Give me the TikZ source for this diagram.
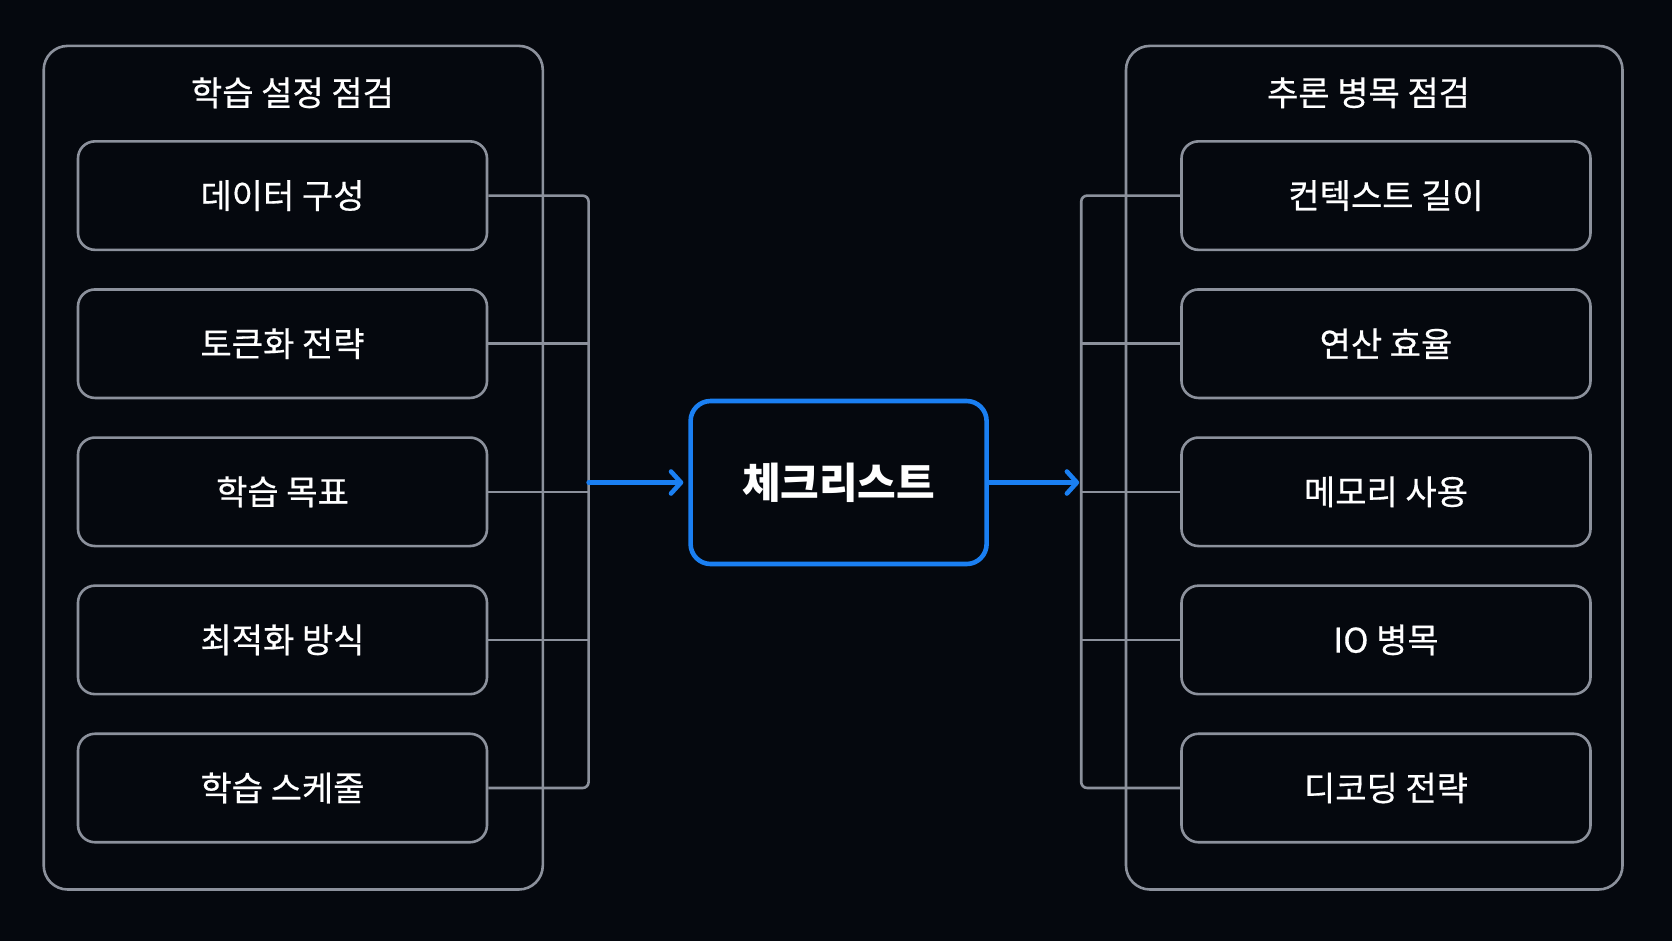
\documentclass[tikz,border=0pt]{standalone}
\usepackage{fontspec}
\setmainfont{Noto Sans CJK KR}
\newfontfamily\itemfont[FakeBold=0.5]{Noto Sans CJK KR}
\usepackage{xcolor}
\usetikzlibrary{arrows.meta,positioning}
\definecolor{Bg}{HTML}{05080E}
\definecolor{Edge}{HTML}{8C919C}
\definecolor{Accent}{HTML}{1A7FF2}

\begin{document}
\begin{tikzpicture}[x=1pt,y=-1pt,font=\itemfont\fontsize{34}{40}\selectfont,text=white,
  >={Straight Barb[length=10pt,width=22pt,line cap=round,line join=round]}]
  \tikzstyle{group}=[draw=Edge,line width=2.6pt,rounded corners=24pt]
  \tikzstyle{item}=[draw=Edge,line width=2.6pt,rounded corners=17pt,minimum width=409pt,minimum height=108.5pt]
  \tikzstyle{link}=[draw=Edge,line width=2.6pt,rounded corners=6pt]
  \tikzstyle{flow}=[draw=Accent,line width=4.6pt,line cap=round]
  \fill[Bg] (0,0) rectangle (1672,941);
  \useasboundingbox (0,0) rectangle (1672,941);
  % left group
  \draw[group] (43.7,45.9) rectangle (542.8,889.5);
  \node (ltitle) at (292.5,92.8) {학습 설정 점검};
  \node[item] (l1) at (282.5,195.6) {데이터 구성};
  \node[item,below=37pt of l1] (l2) {토큰화 전략};
  \node[item,below=37pt of l2] (l3) {학습 목표};
  \node[item,below=37pt of l3] (l4) {최적화 방식};
  \node[item,below=37pt of l4] (l5) {학습 스케줄};
  % right group
  \draw[group] (1126,45.9) rectangle (1622.5,889.5);
  \node (rtitle) at (1368.5,92.8) {추론 병목 점검};
  \node[item] (r1) at (1386,195.6) {컨텍스트 길이};
  \node[item,below=37pt of r1] (r2) {연산 효율};
  \node[item,below=37pt of r2] (r3) {메모리 사용};
  \node[item,below=37pt of r3] (r4) {IO 병목};
  \node[item,below=37pt of r4] (r5) {디코딩 전략};
  % center
  \node[draw=Accent,line width=4.6pt,rounded corners=20pt,minimum width=296pt,minimum height=163pt,
    font=\rmfamily\fontsize{42}{48}\selectfont\bfseries] (check) at (838.6,482.5) {체크리스트};
  \coordinate (lbar) at (588.6,482.5);
  \coordinate (rbar) at (1081.2,482.5);
  % connectors
  \draw[link] (l1.east) -| (lbar) |- (l5.east);
  \foreach \i in {2,3,4} \draw[link] (l\i.east) -- (l\i.east -| lbar);
  \draw[link] (r1.west) -| (rbar) |- (r5.west);
  \foreach \i in {2,3,4} \draw[link] (r\i.west) -- (r\i.west -| rbar);
  \draw[flow,->,shorten >=5pt] (lbar) -- (check.west);
  \draw[flow,->,shorten >=2pt] (check.east) -- (rbar);
\end{tikzpicture}
\end{document}
